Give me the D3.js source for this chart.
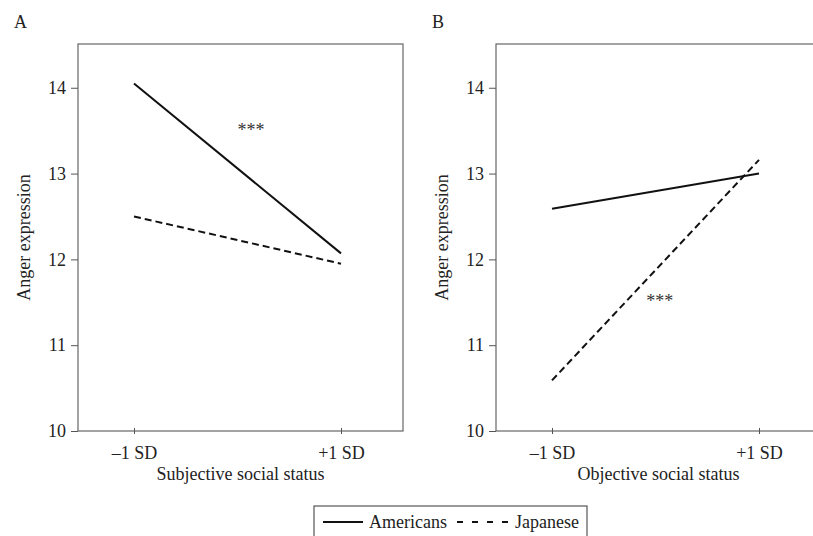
<!DOCTYPE html>
<html>
<head>
<meta charset="utf-8">
<script src="https://cdn.jsdelivr.net/npm/d3@7"></script>
<style>
  body { margin: 0; background: #fff; }
  svg { display: block; font-family: "Liberation Serif", "Times New Roman", serif; }
</style>
</head>
<body>
<div id="chart"></div>
<script>
// Data
const xLevels = ["\u20131 SD", "+1 SD"];
const yTicks = [10, 11, 12, 13, 14];
const groups = ["Americans", "Japanese"];

const subjAmericans = [14.05, 12.07];
const subjJapanese = [12.50, 11.95];
const objAmericans = [12.59, 13.00];
const objJapanese = [10.59, 13.16];

// significance marks: [x position (0 = -1 SD, 1 = +1 SD), y value]
const subjStars = [0.565, 13.55];
const objStars = [0.52, 11.56];

const panels = [
    { letter: "A", xLabel: "Subjective social status", series: [subjAmericans, subjJapanese], stars: subjStars, left: 78 },
    { letter: "B", xLabel: "Objective social status", series: [objAmericans, objJapanese], stars: objStars, left: 496 }
];

const viewW = 813;
const viewH = 536;
const plotTop = 44;
const plotW = 325;
const plotH = 387;

const svg = d3.select("#chart")
    .append("svg")
    .attr("width", viewW)
    .attr("height", viewH);

const xScale = d3.scaleLinear().domain([0, 1]).range([56, 263]);
const yScale = d3.scaleLinear().domain([10, 14.51]).range([plotH, 0]);
const dashes = [null, "7,4"];

panels.forEach(p => {
    const g = svg.append("g").attr("transform", `translate(${p.left},${plotTop})`);

    // frame
    g.append("rect")
        .attr("x", 0).attr("y", 0)
        .attr("width", plotW).attr("height", plotH)
        .attr("fill", "none")
        .attr("stroke", "#666")
        .attr("stroke-width", 1.2);

    // Y axis
    const yAxis = g.append("g")
        .call(d3.axisLeft(yScale).tickValues(yTicks).tickFormat(d3.format("d")).tickSize(7).tickPadding(5));
    yAxis.select(".domain").remove();
    yAxis.selectAll("line").attr("stroke", "#555");
    yAxis.selectAll("text")
        .style("font-family", "Liberation Serif, serif")
        .style("font-size", "18px")
        .attr("fill", "#222");

    // X axis
    const xAxis = g.append("g")
        .attr("transform", `translate(0,${plotH})`)
        .call(d3.axisBottom(xScale).tickValues([0, 1]).tickFormat(i => xLevels[i]).tickSize(3).tickPadding(12));
    xAxis.select(".domain").remove();
    xAxis.selectAll("line").attr("y1", -3).attr("stroke", "#555");
    xAxis.selectAll("text")
        .style("font-family", "Liberation Serif, serif")
        .style("font-size", "18px")
        .attr("fill", "#222");

    // lines
    const line = d3.line().x((d, i) => xScale(i)).y(d => yScale(d));
    p.series.forEach((s, k) => {
        g.append("path")
            .datum(s)
            .attr("d", line)
            .attr("fill", "none")
            .attr("stroke", "#111")
            .attr("stroke-width", 2)
            .attr("stroke-dasharray", dashes[k]);
    });

    // significance
    g.append("text")
        .attr("x", xScale(p.stars[0]))
        .attr("y", yScale(p.stars[1]))
        .attr("dy", "0.55em")
        .attr("text-anchor", "middle")
        .style("font-size", "18px")
        .attr("fill", "#333")
        .text("***");

    // panel letter
    g.append("text")
        .attr("x", -64)
        .attr("y", -16)
        .style("font-size", "18px")
        .attr("fill", "#222")
        .text(p.letter);

    // axis labels
    g.append("text")
        .attr("x", plotW / 2)
        .attr("y", plotH + 49)
        .attr("text-anchor", "middle")
        .style("font-size", "18px")
        .attr("fill", "#222")
        .text(p.xLabel);

    g.append("text")
        .attr("transform", "rotate(-90)")
        .attr("x", -plotH / 2)
        .attr("y", -48)
        .attr("text-anchor", "middle")
        .style("font-size", "18px")
        .attr("fill", "#222")
        .text("Anger expression");
});

// Legend
const legend = svg.append("g").attr("transform", "translate(314,506)");
legend.append("rect")
    .attr("width", 273).attr("height", 40)
    .attr("fill", "none")
    .attr("stroke", "#555")
    .attr("stroke-width", 1.2);

const legendX = [9, 143];
const legendLen = [40, 52];
groups.forEach((name, k) => {
    legend.append("line")
        .attr("x1", legendX[k]).attr("x2", legendX[k] + legendLen[k])
        .attr("y1", 16).attr("y2", 16)
        .attr("stroke", "#111")
        .attr("stroke-width", 2)
        .attr("stroke-dasharray", k === 1 ? "6,9" : null);
    legend.append("text")
        .attr("x", legendX[k] + legendLen[k] + 6)
        .attr("y", 22)
        .style("font-size", "18px")
        .attr("fill", "#222")
        .text(name);
});
</script>
</body>
</html>
